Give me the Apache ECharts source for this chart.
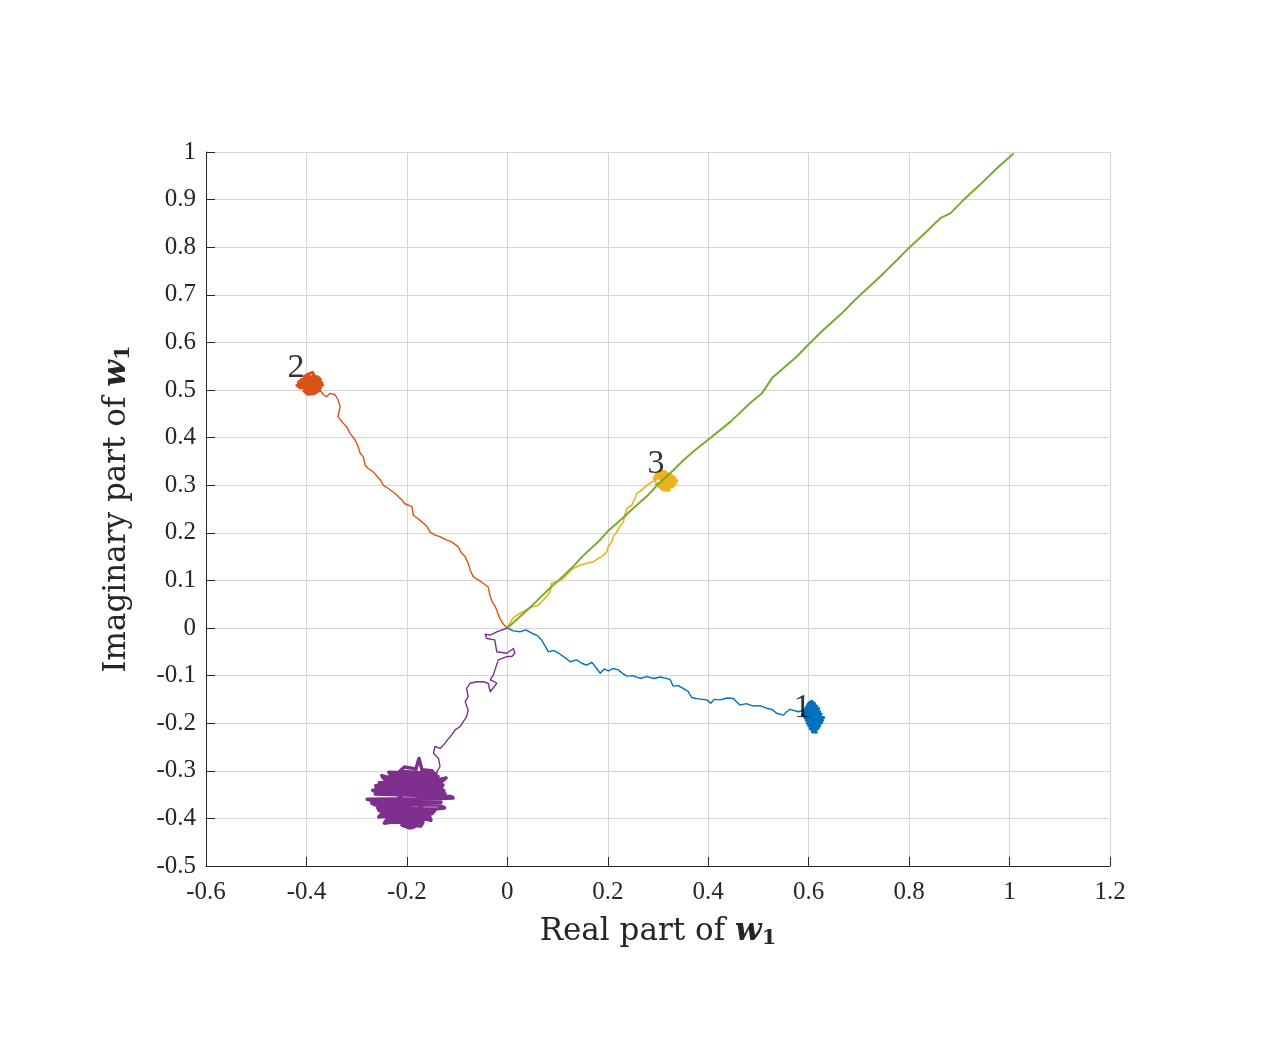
<!DOCTYPE html>
<html>
<head>
<meta charset="utf-8">
<script src="https://cdn.jsdelivr.net/npm/echarts@6/dist/echarts.min.js"></script>
<style>html,body{margin:0;padding:0;background:#fff}#c{width:1275px;height:1050px}</style>
</head>
<body>
<div id="c"></div>
<script>
// ---- data (real part, imaginary part) ----
const xTicks = [-0.6, -0.4, -0.2, 0, 0.2, 0.4, 0.6, 0.8, 1, 1.2];
const yTicks = [-0.5, -0.4, -0.3, -0.2, -0.1, 0, 0.1, 0.2, 0.3, 0.4, 0.5, 0.6, 0.7, 0.8, 0.9, 1];

const bluePath = [[0,0],[0.012,-0.006],[0.025,-0.008],[0.037,-0.004],[0.049,-0.011],[0.060,-0.016],[0.068,-0.025],[0.082,-0.050],[0.092,-0.047],[0.102,-0.053],[0.112,-0.060],[0.125,-0.071],[0.138,-0.067],[0.148,-0.074],[0.158,-0.078],[0.168,-0.072],[0.175,-0.081],[0.185,-0.095],[0.193,-0.086],[0.201,-0.090],[0.211,-0.085],[0.221,-0.088],[0.230,-0.096],[0.238,-0.101],[0.250,-0.100],[0.264,-0.106],[0.278,-0.102],[0.291,-0.106],[0.305,-0.103],[0.324,-0.108],[0.330,-0.122],[0.340,-0.121],[0.350,-0.127],[0.360,-0.133],[0.367,-0.146],[0.380,-0.149],[0.397,-0.151],[0.405,-0.158],[0.412,-0.150],[0.424,-0.151],[0.437,-0.147],[0.450,-0.148],[0.463,-0.162],[0.476,-0.159],[0.490,-0.164],[0.503,-0.163],[0.517,-0.169],[0.527,-0.171],[0.536,-0.179],[0.550,-0.183],[0.556,-0.176],[0.563,-0.171],[0.579,-0.176],[0.593,-0.172]];
const blueCluster = [[0.593,-0.172],[0.600,-0.158],[0.606,-0.154],[0.612,-0.159],[0.597,-0.164],[0.616,-0.164],[0.595,-0.170],[0.620,-0.169],[0.593,-0.176],[0.622,-0.176],[0.588,-0.182],[0.625,-0.181],[0.592,-0.188],[0.630,-0.188],[0.595,-0.194],[0.628,-0.194],[0.597,-0.200],[0.626,-0.199],[0.600,-0.206],[0.622,-0.206],[0.603,-0.212],[0.619,-0.211],[0.607,-0.218],[0.615,-0.219],[0.611,-0.205],[0.605,-0.190],[0.614,-0.175],[0.609,-0.196],[0.618,-0.186]];

const orangePath = [[0,0],[-0.008,0.008],[-0.015,0.020],[-0.020,0.034],[-0.024,0.045],[-0.030,0.055],[-0.034,0.066],[-0.038,0.086],[-0.048,0.094],[-0.058,0.101],[-0.068,0.108],[-0.074,0.122],[-0.078,0.136],[-0.084,0.150],[-0.091,0.157],[-0.098,0.171],[-0.111,0.181],[-0.114,0.178],[-0.124,0.186],[-0.134,0.192],[-0.144,0.195],[-0.154,0.202],[-0.160,0.213],[-0.170,0.223],[-0.187,0.237],[-0.190,0.255],[-0.204,0.261],[-0.210,0.269],[-0.224,0.283],[-0.237,0.293],[-0.247,0.300],[-0.253,0.311],[-0.267,0.328],[-0.277,0.335],[-0.283,0.342],[-0.287,0.360],[-0.293,0.367],[-0.297,0.381],[-0.303,0.395],[-0.313,0.409],[-0.320,0.423],[-0.330,0.434],[-0.337,0.444],[-0.333,0.465],[-0.337,0.479],[-0.343,0.490],[-0.353,0.493],[-0.360,0.486],[-0.366,0.490],[-0.373,0.500]];
const orangeCluster = [[-0.373,0.500],[-0.385,0.492],[-0.398,0.491],[-0.405,0.498],[-0.378,0.498],[-0.372,0.504],[-0.412,0.504],[-0.419,0.510],[-0.368,0.510],[-0.370,0.516],[-0.416,0.516],[-0.410,0.522],[-0.372,0.522],[-0.378,0.528],[-0.405,0.528],[-0.395,0.534],[-0.388,0.537],[-0.385,0.532],[-0.392,0.518],[-0.400,0.508],[-0.382,0.510],[-0.376,0.500]];

const yellowPath = [[0,0],[0.009,0.017],[0.015,0.024],[0.025,0.031],[0.032,0.034],[0.042,0.041],[0.052,0.045],[0.062,0.048],[0.068,0.055],[0.078,0.066],[0.085,0.076],[0.088,0.094],[0.098,0.097],[0.108,0.101],[0.115,0.108],[0.121,0.115],[0.131,0.125],[0.145,0.132],[0.158,0.136],[0.171,0.139],[0.181,0.146],[0.188,0.150],[0.198,0.160],[0.201,0.171],[0.208,0.181],[0.211,0.192],[0.218,0.202],[0.224,0.213],[0.231,0.223],[0.234,0.237],[0.238,0.251],[0.248,0.258],[0.254,0.272],[0.258,0.283],[0.268,0.290],[0.278,0.300],[0.288,0.307],[0.296,0.309]];
const yellowCluster = [[0.296,0.309],[0.293,0.315],[0.333,0.315],[0.325,0.321],[0.296,0.321],[0.300,0.327],[0.312,0.329],[0.318,0.324],[0.337,0.309],[0.297,0.303],[0.334,0.303],[0.328,0.297],[0.303,0.297],[0.310,0.291],[0.322,0.290],[0.318,0.305],[0.306,0.312],[0.324,0.313]];

const purplePath = [[0,0],[-0.021,-0.008],[-0.034,-0.015],[-0.044,-0.013],[-0.041,-0.022],[-0.025,-0.025],[-0.021,-0.050],[-0.001,-0.053],[0.012,-0.043],[0.015,-0.053],[0.009,-0.060],[-0.001,-0.060],[-0.018,-0.067],[-0.028,-0.099],[-0.034,-0.109],[-0.025,-0.113],[-0.021,-0.116],[-0.034,-0.134],[-0.038,-0.116],[-0.048,-0.113],[-0.061,-0.113],[-0.074,-0.116],[-0.081,-0.127],[-0.078,-0.144],[-0.084,-0.155],[-0.078,-0.172],[-0.081,-0.186],[-0.088,-0.197],[-0.094,-0.207],[-0.104,-0.214],[-0.111,-0.225],[-0.117,-0.232],[-0.124,-0.242],[-0.134,-0.253],[-0.144,-0.249],[-0.147,-0.263],[-0.137,-0.274],[-0.134,-0.291],[-0.144,-0.309]];
const purpleCluster = [[-0.144,-0.309],[-0.150,-0.300],[-0.170,-0.298],[-0.176,-0.274],[-0.182,-0.296],[-0.205,-0.292],[-0.214,-0.301],[-0.142,-0.306],[-0.236,-0.303],[-0.232,-0.309],[-0.138,-0.312],[-0.241,-0.313],[-0.250,-0.310],[-0.245,-0.318],[-0.135,-0.318],[-0.122,-0.315],[-0.132,-0.324],[-0.255,-0.325],[-0.128,-0.330],[-0.262,-0.331],[-0.130,-0.336],[-0.262,-0.337],[-0.126,-0.342],[-0.268,-0.341],[-0.260,-0.345],[-0.124,-0.348],[-0.263,-0.349],[-0.112,-0.354],[-0.108,-0.357],[-0.130,-0.358],[-0.279,-0.360],[-0.266,-0.363],[-0.132,-0.366],[-0.270,-0.368],[-0.262,-0.372],[-0.136,-0.372],[-0.125,-0.378],[-0.140,-0.380],[-0.258,-0.378],[-0.255,-0.384],[-0.145,-0.384],[-0.150,-0.390],[-0.250,-0.390],[-0.256,-0.397],[-0.248,-0.396],[-0.155,-0.396],[-0.152,-0.404],[-0.160,-0.402],[-0.240,-0.402],[-0.245,-0.410],[-0.232,-0.408],[-0.168,-0.408],[-0.172,-0.416],[-0.210,-0.414],[-0.195,-0.420],[-0.186,-0.418],[-0.180,-0.412],[-0.195,-0.400],[-0.205,-0.385],[-0.190,-0.370],[-0.215,-0.355],[-0.200,-0.340],[-0.225,-0.330],[-0.198,-0.318],[-0.170,-0.330],[-0.185,-0.350],[-0.160,-0.360],[-0.175,-0.380],[-0.200,-0.392],[-0.215,-0.405]];

const greenPath = [[0,0],[0.02,0.019],[0.05,0.048],[0.08,0.079],[0.1,0.098],[0.13,0.128],[0.15,0.151],[0.18,0.180],[0.2,0.203],[0.23,0.231],[0.25,0.251],[0.28,0.279],[0.3,0.302],[0.33,0.331],[0.35,0.352],[0.374,0.374],[0.404,0.399],[0.444,0.433],[0.483,0.472],[0.507,0.493],[0.527,0.525],[0.576,0.570],[0.599,0.595],[0.629,0.626],[0.666,0.661],[0.692,0.689],[0.742,0.738],[0.776,0.773],[0.799,0.798],[0.835,0.833],[0.862,0.861],[0.882,0.871],[0.908,0.899],[0.941,0.931],[0.978,0.969],[1.008,0.997]];

const labelPoints = [[0.587,-0.168,'1'],[-0.421,0.546,'2'],[0.296,0.345,'3'],[0.969,1.021,'5']];

const colors = ['#0072BD', '#D95319', '#EDB120', '#7E2F8E', '#77AC30'];

// ---- chart ----
const chart = echarts.init(document.getElementById('c'), null, {renderer: 'canvas'});
const FONT = '"Liberation Serif", "Times New Roman", serif';
const NFONT = '"DejaVu Serif", serif';
const fmt = v => String(+v.toFixed(1));

function line(data, color, width) {
  return {type: 'line', data: data, showSymbol: false, symbol: 'none', animation: false,
    lineStyle: {color: color, width: width, join: 'round'}, z: 2};
}

const axisCommon = {
  axisLine: {show: true, onZero: false, lineStyle: {color: '#262626', width: 1}},
  axisTick: {show: true, inside: true, length: 9, lineStyle: {color: '#262626', width: 1}},
  splitLine: {show: true, lineStyle: {color: '#d6d6d6', width: 1}},
  axisLabel: {color: '#262626', fontFamily: FONT, fontSize: 25, formatter: fmt},
  nameLocation: 'middle',
  nameTextStyle: {color: '#262626', fontFamily: NFONT, fontSize: 31,
    rich: {
      n: {fontFamily: NFONT, fontSize: 31, color: '#262626'},
      w: {fontFamily: NFONT, fontSize: 31, fontStyle: 'italic', fontWeight: 'bold', color: '#262626'},
      s: {fontFamily: NFONT, fontSize: 21, fontWeight: 'bold', color: '#262626', padding: [13, 0, 0, 0]}
    }}
};

chart.setOption({
  backgroundColor: '#ffffff',
  animation: false,
  grid: {left: 206, right: 165, top: 152, bottom: 184, containLabel: false},
  xAxis: Object.assign({}, axisCommon, {
    type: 'value', min: -0.6, max: 1.2, interval: 0.2,
    name: '{n|Real part of }{w|w}{s|1}', nameGap: 49,
    axisLabel: Object.assign({}, axisCommon.axisLabel, {margin: 14})
  }),
  yAxis: Object.assign({}, axisCommon, {
    type: 'value', min: -0.5, max: 1, interval: 0.1,
    name: '{n|Imaginary part of }{w|w}{s|1}', nameGap: 72, nameRotate: 90,
    axisLabel: Object.assign({}, axisCommon.axisLabel, {margin: 10})
  }),
  series: [
    line(bluePath, colors[0], 1.4), line(blueCluster, colors[0], 3),
    line(orangePath, colors[1], 1.4), line(orangeCluster, colors[1], 3),
    line(yellowPath, colors[2], 1.6), line(yellowCluster, colors[2], 3.5),
    line(purplePath, colors[3], 1.4), line(purpleCluster, colors[3], 3.5),
    line(greenPath, colors[4], 2),
    {type: 'scatter', data: labelPoints, symbolSize: 0, z: 5, animation: false,
      label: {show: true, position: 'inside', formatter: p => p.data[2],
        fontFamily: FONT, fontSize: 34, color: '#000'}}
  ]
});
</script>
</body>
</html>
